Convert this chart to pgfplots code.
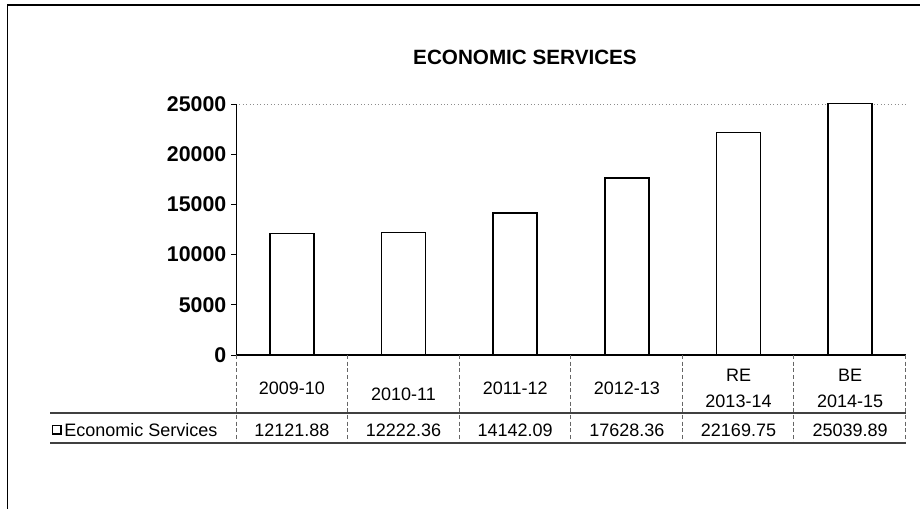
\documentclass[border=0pt]{standalone}
\usepackage{pgfplots}
\pgfplotsset{compat=1.18}
\usepackage{fontspec}
\setmainfont{Liberation Sans}

\begin{document}
\begin{tikzpicture}[x=0.75pt,y=0.75pt]
\path[use as bounding box] (0,0) rectangle (920,509);
\draw[line width=1.2pt] (7.5,0) -- (7.5,504) -- (920,504);
\node[font=\fontsize{15.5}{18}\selectfont\bfseries] at (525,452) {ECONOMIC SERVICES};
\draw[dotted, black!45, line width=0.6pt] (236,405) -- (906,405);
\begin{axis}[at={(177pt,115.5pt)}, anchor=south west, scale only axis,
  width=502.5pt, height=188.25pt,
  xmin=-0.5, xmax=5.5, ymin=0, ymax=25000,
  axis x line=bottom, axis y line=left,
  x axis line style={-, line width=1.1pt},
  y axis line style={-, line width=0.6pt},
  ytick={0,5000,10000,15000,20000,25000},
  scaled y ticks=false,
  /pgf/number format/assume math mode=true,
  yticklabel style={font=\fontsize{16}{19}\selectfont\bfseries, /pgf/number format/.cd, fixed, 1000 sep={}},
  ytick style={line width=0.6pt, black},
  tick align=outside, major tick length=3.75pt,
  xtick={0,1,2,3,4,5},
  xticklabels={2009-10, \mbox{}\\2010-11, 2011-12, 2012-13, RE\\2013-14, BE\\2014-15},
  xtick style={draw=none},
  xticklabel style={font=\fontsize{13.5}{19.5}\selectfont, align=center, anchor=center, yshift=-21pt},
  ybar, bar width=33pt,
  clip=false]
\addplot[draw=black, fill=white, line width=1.1pt] coordinates {(0,12121.88) (1,12222.36) (2,14142.09) (3,17628.36) (4,22169.75) (5,25039.89)};
\end{axis}
% data table
\foreach \k in {0,...,6} {
  \draw[densely dashed, black!60, line width=0.5pt] ({236+\k*111.5},154) -- ({236+\k*111.5},66);
}
\draw[black!75, line width=0.8pt] (50,96) -- (906,96);
\draw[black!75, line width=0.8pt] (50,66) -- (906,66);
\draw[line width=0.9pt] (52.5,75) rectangle (61,83.5);
\node[anchor=west, inner sep=0pt, font=\fontsize{13.5}{16}\selectfont] at (64,79) {Economic Services};
\foreach \cx/\v in {291.8/12121.88, 403.5/12222.36, 515.2/14142.09, 626.8/17628.36, 738.5/22169.75, 850.2/25039.89} {
  \node[font=\fontsize{13.5}{16}\selectfont] at (\cx,79) {\v};
}
\end{tikzpicture}
\end{document}
